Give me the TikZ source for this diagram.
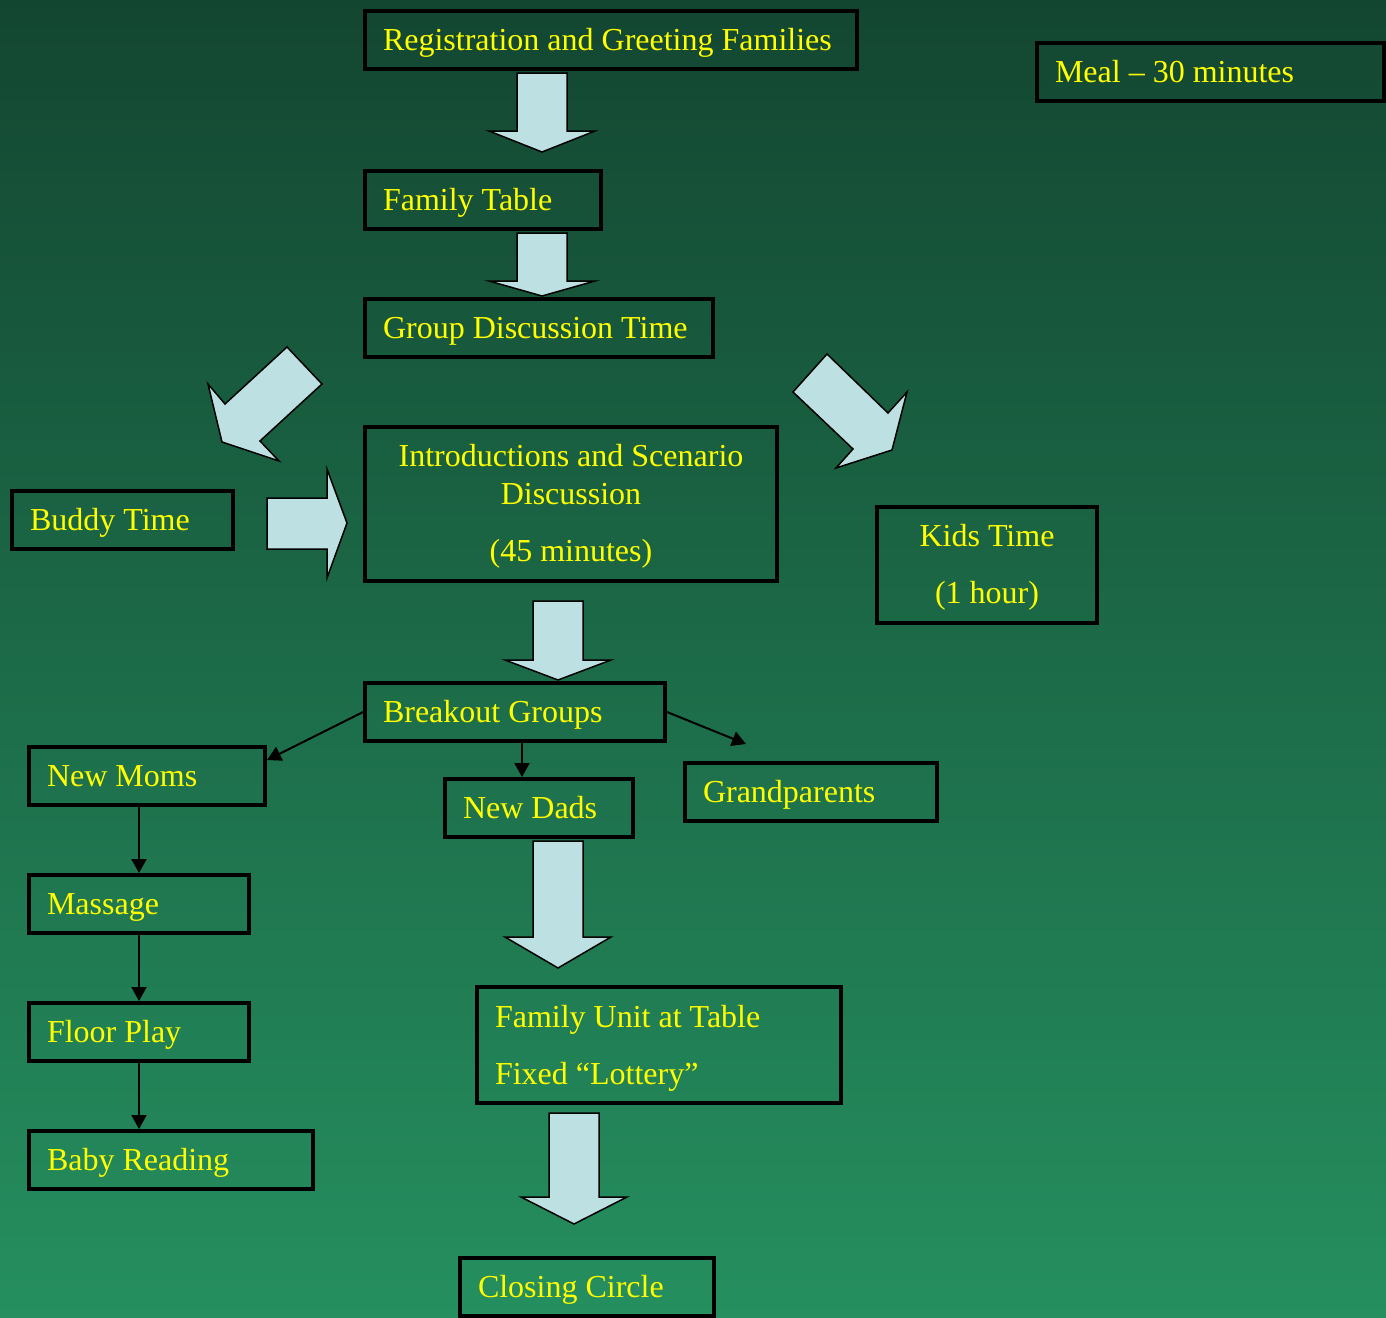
\documentclass[tikz,border=0pt]{standalone}
\usepackage{fontspec}
\setmainfont{Liberation Serif}
\usetikzlibrary{arrows.meta}
\definecolor{bgtop}{RGB}{19,70,49}
\definecolor{bgbot}{RGB}{37,143,95}
\definecolor{arrowfill}{RGB}{189,224,227}
\definecolor{labelyellow}{RGB}{255,255,0}
\tikzset{
	flowbox/.style={draw=black, line width=2pt, anchor=north west, inner xsep=9pt, inner ysep=0pt, text=labelyellow, font=\fontsize{16}{19}\selectfont, align=flush left},
	oneline/.style={flowbox, minimum height=29pt, text height=12pt, text depth=2pt},
	blockarrow/.style={draw=black, line width=0.75pt, fill=arrowfill, line join=miter},
	thinarrow/.style={draw=black, line width=1pt, -{Triangle[length=7pt,width=7.5pt]}}
}
% fat arrow pointing down: centre x, top, head base, tip
\newcommand\bigdown[4]{\draw[blockarrow] (#1-25,#2) -- (#1+25,#2) -- (#1+25,#3) -- (#1+53,#3) -- (#1,#4) -- (#1-53,#3) -- (#1-25,#3) -- cycle;}

\begin{document}
\begin{tikzpicture}[x=0.5pt, y=-0.5pt]
			%%%%% START %%%%%
			
			\useasboundingbox (0,0) rectangle (1386,1317);
			\shade[top color=bgtop, bottom color=bgbot] (0,0) rectangle (1386,1317);
			
			\node[oneline, minimum width=246pt, text width=228pt] (reg) at (363,9) {Registration and Greeting Families};
			\node[oneline, minimum width=173.5pt, text width=155.5pt] (meal) at (1035,41) {Meal -- 30 minutes};
			\node[oneline, minimum width=118pt, text width=100pt] (fam) at (363,169) {Family Table};
			\node[oneline, minimum width=174pt, text width=156pt] (grp) at (363,297) {Group Discussion Time};
			\node[flowbox, align=flush center, minimum width=206pt, text width=188pt, minimum height=77pt] (intro) at (363,425) {\rule{0pt}{13pt}Introductions and Scenario\\Discussion\\[9.5pt](45 minutes)};
			\node[oneline, minimum width=110.5pt, text width=92.5pt] (buddy) at (10,489) {Buddy Time};
			\node[flowbox, align=flush center, minimum width=110pt, text width=92pt, minimum height=58pt] (kids) at (875,505) {\rule{0pt}{13pt}Kids Time\\[9.5pt](1 hour)};
			
			\node[oneline, minimum width=150pt, text width=132pt] (brk) at (363,681) {Breakout Groups};
			\node[oneline, minimum width=118pt, text width=100pt] (moms) at (27,745) {New Moms};
			\node[oneline, minimum width=94pt, text width=76pt] (dads) at (443,777) {New Dads};
			\node[oneline, minimum width=126pt, text width=108pt] (grand) at (683,761) {Grandparents};
			\node[oneline, minimum width=110pt, text width=92pt] (mass) at (27,873) {Massage};
			\node[oneline, minimum width=110pt, text width=92pt] (floor) at (27,1001) {Floor Play};
			\node[oneline, minimum width=142pt, text width=124pt] (baby) at (27,1129) {Baby Reading};
			\node[flowbox, minimum width=182pt, text width=164pt, minimum height=58pt] (unit) at (475,985) {\rule{0pt}{14pt}Family Unit at Table\\[9.5pt]Fixed ``Lottery''};
			\node[oneline, minimum width=127pt, text width=109pt] (close) at (458,1256) {Closing Circle};
			
			% fat arrows
			\bigdown{542}{73}{131}{152}
			\bigdown{542}{233}{281}{296}
			\bigdown{558}{601}{660}{680}
			\bigdown{558}{841}{937}{968}
			\bigdown{574}{1113}{1197}{1224}
			\draw[blockarrow] (287,347) -- (322,384) -- (260,441) -- (279,461) -- (222,442) -- (208,384) -- (225,404) -- cycle;
			\draw[blockarrow] (827,354) -- (888,413) -- (907,392) -- (892,450) -- (836,468) -- (853,449) -- (793,392) -- cycle;
			\draw[blockarrow] (267,498) -- (327,498) -- (327,469) -- (347,523) -- (327,578) -- (327,549) -- (267,549) -- cycle;
			
			% thin arrows
			\path (brk.south) ++(7,0) coordinate (brkfoot);
			\draw[thinarrow] (brk.west) -- ([yshift=-7.5pt]moms.north east);
			\draw[thinarrow] (brkfoot) -- (brkfoot |- dads.north);
			\draw[thinarrow] (brk.east) -- ([xshift=31.5pt, yshift=8.5pt]grand.north west);
			\draw[thinarrow] (mass.north |- moms.south) -- (mass.north);
			\draw[thinarrow] (mass.south) -- (floor.north);
			\draw[thinarrow] (floor.south) -- (floor.south |- baby.north);
			
			%%%%% END %%%%%
		\end{tikzpicture}
\end{document}
